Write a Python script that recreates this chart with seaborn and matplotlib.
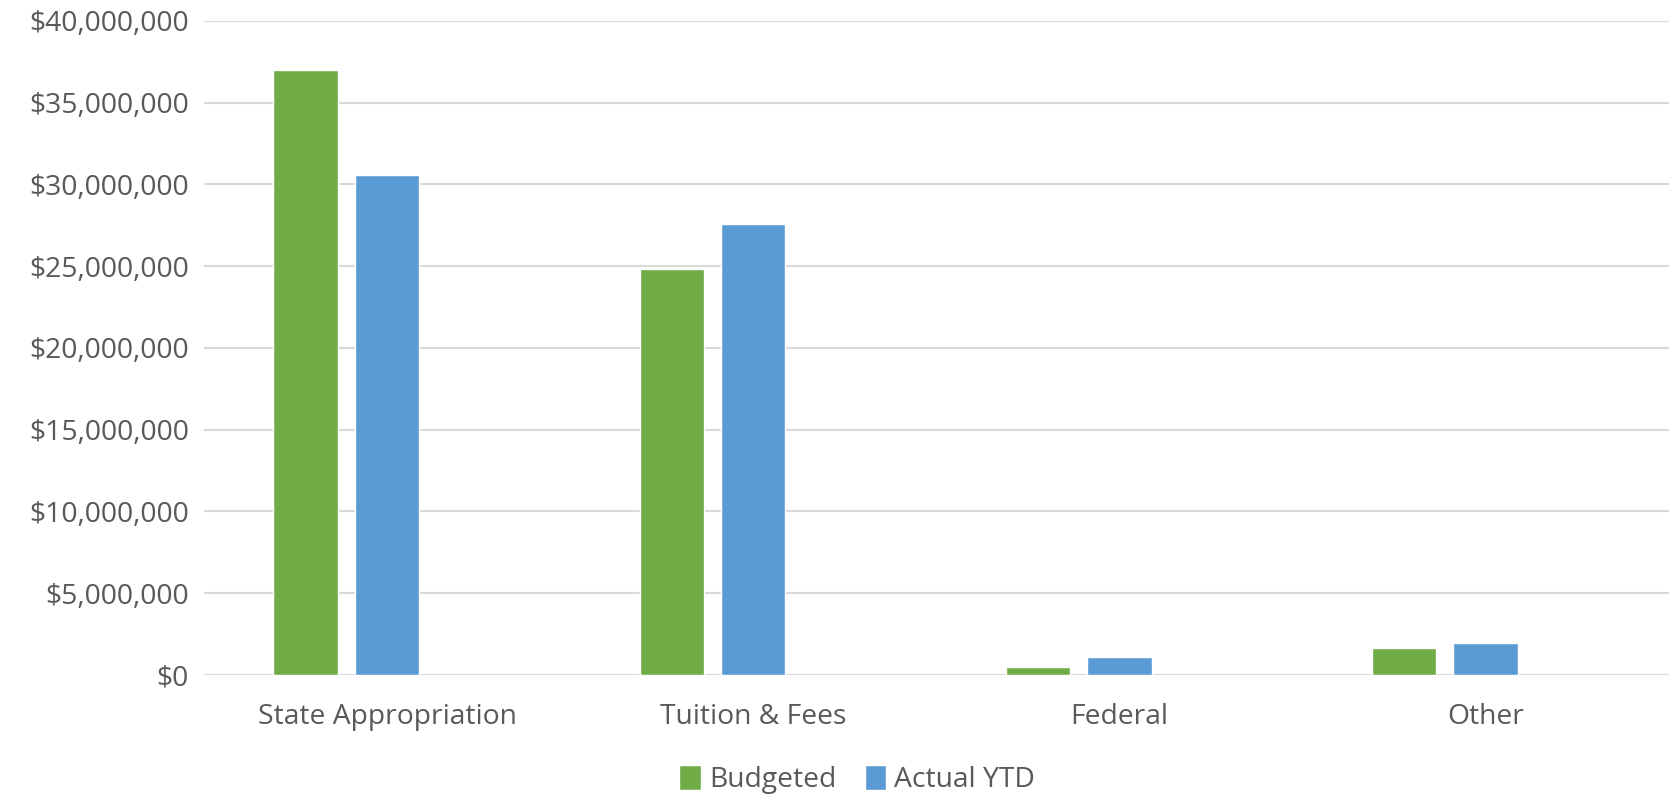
import pandas as pd
import numpy as np
import seaborn as sns
import matplotlib.pyplot as plt
from matplotlib.ticker import FuncFormatter

# datos
categorias = ["State Appropriation", "Tuition & Fees", "Federal", "Other"]
budgeted = [36980000, 24850000, 480000, 1620000]
actual_ytd = [30580000, 27580000, 1120000, 1930000]
# tercera serie vacia (ocupa el hueco a la derecha de cada grupo)
serie_vacia = [np.nan, np.nan, np.nan, np.nan]

series = ["Budgeted", "Actual YTD", "Empty"]
df = pd.DataFrame({
    "categoria": categorias * 3,
    "serie": [series[0]] * 4 + [series[1]] * 4 + [series[2]] * 4,
    "valor": budgeted + actual_ytd + serie_vacia,
})

sns.set_style("white")
plt.rcParams['font.family'] = ['Open Sans', 'DejaVu Sans']

fig = plt.figure(figsize=(16.72, 7.95), dpi=100)
ax = fig.add_axes([0.122, 0.151, 0.876, 0.8226])

colores = {"Budgeted": "#70AD47", "Actual YTD": "#5B9BD5", "Empty": "#FFFFFF"}
sns.barplot(data=df, x="categoria", y="valor", hue="serie", hue_order=series,
            order=categorias, palette=colores, width=0.667, gap=0.21,
            saturation=1, errorbar=None, ax=ax, zorder=3)

ax.set_ylim(0, 40000000)
ax.set_xlim(-0.5, 3.5)
ax.set_yticks(np.arange(0, 40000001, 5000000))
ax.yaxis.set_major_formatter(FuncFormatter(lambda v, p: "${:,.0f}".format(v)))
ax.grid(axis="y", color="#d9d9d9", linewidth=1.5, zorder=0)
ax.set_axisbelow(True)
for s in ax.spines.values():
    s.set_visible(False)
ax.tick_params(axis="both", length=0, labelsize=20.3, colors="#595959", pad=11)
ax.tick_params(axis="x", pad=20)
ax.set_xlabel("")
ax.set_ylabel("")

# leyenda solo con las dos series reales
h, l = ax.get_legend_handles_labels()
ax.legend(h[:2], l[:2], loc="center", bbox_to_anchor=(0.446, -0.16), ncol=2,
          frameon=False, fontsize=20.3, labelcolor="#595959",
          handlelength=0.75, handleheight=1.0, handletextpad=0.3, columnspacing=1.0)

plt.savefig("out.png", dpi=100)
